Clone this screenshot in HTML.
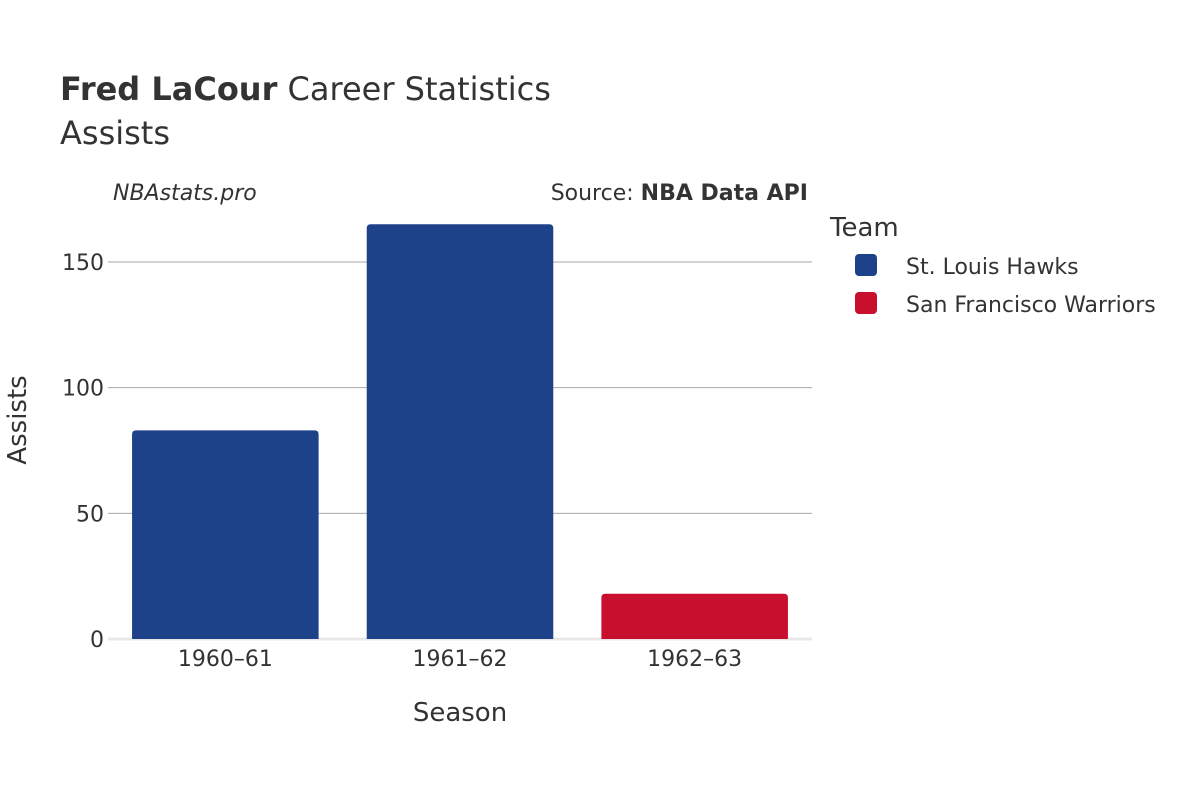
<!DOCTYPE html>
<html><head><meta charset="utf-8"><style>
body{margin:0;background:#fff;}
svg text{font-family:"DejaVu Sans","Liberation Sans",sans-serif;fill:#333;}
</style></head><body>
<svg id="chart" width="1200" height="800">
<text x="60" y="100" font-size="32"><tspan font-weight="bold">Fred LaCour</tspan> Career Statistics</text>
<text x="60" y="144" font-size="32">Assists</text>
<text x="113" y="200" font-size="22" font-style="italic">NBAstats.pro</text>
<text x="808" y="200" font-size="22" text-anchor="end">Source: <tspan font-weight="bold">NBA Data API</tspan></text>
<g id="grid"></g>
<g id="bars"></g>
<g id="xt"></g>
<text x="460" y="721" font-size="26" text-anchor="middle">Season</text>
<text x="0" y="0" font-size="26" text-anchor="middle" transform="translate(26,420) rotate(-90)">Assists</text>
<text x="830" y="236" font-size="26">Team</text>
<g><rect x="855" y="254" width="22" height="22" rx="4" fill="#1d428a"/><text x="906" y="274" font-size="22">St. Louis Hawks</text></g>
<g><rect x="855" y="292" width="22" height="22" rx="4" fill="#c8102e"/><text x="906" y="312" font-size="22">San Francisco Warriors</text></g>
</svg>
<script>
const categories=["1960–61","1961–62","1962–63"];
const values=[83,165,18];
const teams=["St. Louis Hawks","St. Louis Hawks","San Francisco Warriors"];
const yTicks=[0,50,100,150];
const colors={"St. Louis Hawks":"#1d428a","San Francisco Warriors":"#c8102e"};
const ns="http://www.w3.org/2000/svg";
const x0=108,x1=812,yBase=639,yTop=262,yTopVal=150;
const y=v=>yBase-(v/yTopVal)*(yBase-yTop);
const band=(x1-x0)/categories.length;
const xc=i=>x0+band*(i+0.5);
function mk(t,a,p){const e=document.createElementNS(ns,t);for(const k in a)e.setAttribute(k,a[k]);p.appendChild(e);return e;}
const g=document.getElementById('grid');
yTicks.forEach(t=>{
  const l=mk('line',{x1:x0,x2:x1,y1:y(t),y2:y(t),stroke:t===0?'#e8e8e8':'#aaa','stroke-width':t===0?3:1},g);
  
  
  const tx=mk('text',{x:x0-4,y:y(t)+8,'font-size':22,'text-anchor':'end'},g);
  tx.textContent=t;
  
  
});
const b=document.getElementById('bars'),xt=document.getElementById('xt');
categories.forEach((c,i)=>{
  const w=band*0.795;
  const p=mk('path',{d:`M${xc(i)-w/2},${yBase} V${y(values[i])+4} Q${xc(i)-w/2},${y(values[i])} ${xc(i)-w/2+4},${y(values[i])} H${xc(i)+w/2-4} Q${xc(i)+w/2},${y(values[i])} ${xc(i)+w/2},${y(values[i])+4} V${yBase} Z`,fill:colors[teams[i]]},b);
  
  
  const tx=mk('text',{x:xc(i),y:666,'font-size':22,'text-anchor':'middle'},xt);
  tx.textContent=c;
  
  
});
</script>
</body></html>
